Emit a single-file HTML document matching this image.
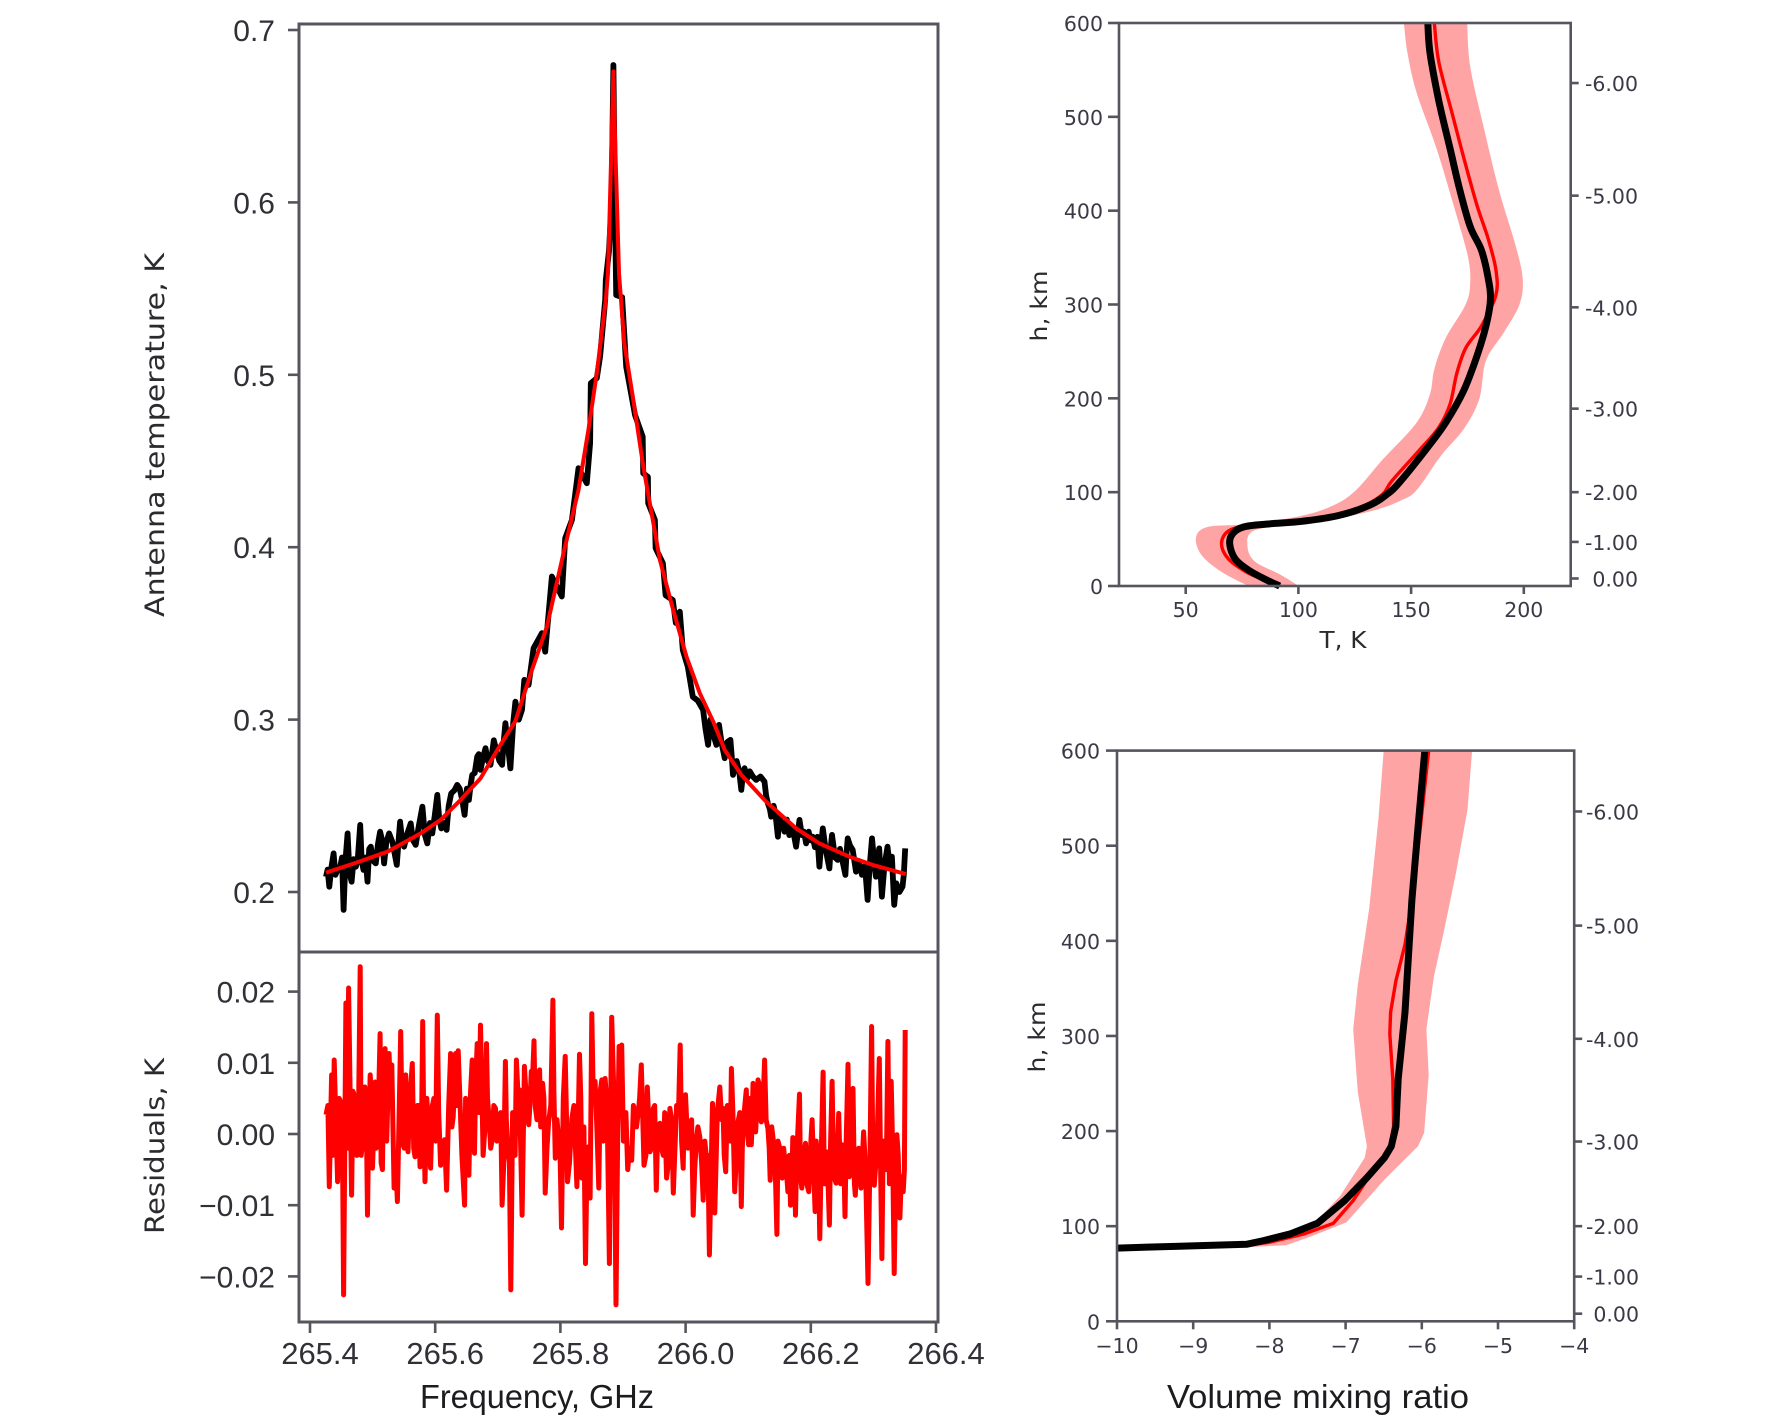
<!DOCTYPE html>
<html lang="en">
<head>
<meta charset="utf-8">
<title>Spectrum fit and retrieved profiles</title>
<style>
html,body{margin:0;padding:0;background:#fff;width:1788px;height:1424px;overflow:hidden}
svg{display:block}
.tickL{font-family:"Liberation Sans",sans-serif;font-size:30px;fill:#303036}
.tickX{font-family:"Liberation Sans",sans-serif;font-size:31px;fill:#303036}
.tickR{font-family:"DejaVu Sans",sans-serif;font-size:20.5px;fill:#3a3a46}
.lab{font-family:"DejaVu Sans",sans-serif;fill:#2a2a2f}
.labS{font-family:"Liberation Sans",sans-serif;fill:#1c1c1f}
</style>
</head>
<body>
<svg id="fig" xmlns="http://www.w3.org/2000/svg" width="1788" height="1424" viewBox="0 0 1788 1424">
  <rect x="0" y="0" width="1788" height="1424" fill="#ffffff"/>
  <g id="spectrum"></g>
  <g id="residual"></g>
  <g id="temp"></g>
  <g id="vmr"></g>
  <text class="lab" font-size="27" text-anchor="middle" textLength="364" lengthAdjust="spacingAndGlyphs" transform="translate(164,435) rotate(-90)">Antenna temperature, K</text>
  <text class="lab" font-size="27" text-anchor="middle" textLength="176" lengthAdjust="spacingAndGlyphs" transform="translate(164,1146) rotate(-90)">Residuals, K</text>
  <text class="labS" font-size="33" text-anchor="middle" textLength="234" lengthAdjust="spacingAndGlyphs" x="537" y="1408">Frequency, GHz</text>
  <text class="lab" font-size="23" text-anchor="middle" textLength="47" lengthAdjust="spacingAndGlyphs" x="1343" y="648">T, K</text>
  <text class="lab" font-size="23" text-anchor="middle" textLength="71" lengthAdjust="spacingAndGlyphs" transform="translate(1047,306) rotate(-90)">h, km</text>
  <text class="lab" font-size="23" text-anchor="middle" textLength="71" lengthAdjust="spacingAndGlyphs" transform="translate(1045,1037) rotate(-90)">h, km</text>
  <text class="labS" font-size="33" text-anchor="middle" textLength="302" lengthAdjust="spacingAndGlyphs" x="1318" y="1408">Volume mixing ratio</text>
</svg>
<script>
/* ---------- spectrum data ---------- */
const freqTicks = [265.4, 265.6, 265.8, 266.0, 266.2, 266.4];
const tempTicks = [0.2, 0.3, 0.4, 0.5, 0.6, 0.7];
const residTicks = [-0.02, -0.01, 0.00, 0.01, 0.02];
const residTickLabels = ['\u22120.02', '\u22120.01', '0.00', '0.01', '0.02'];

/* frequencies as MHz above 265.4 GHz */
const observedFreqMHz = [23.9,26.5,29.2,32.5,36.1,39,42.5,46.7,49.5,52,55,58.4,61.5,64.8,68,71.7,75,78.6,81,83.9,87,90.2,93,95.6,99.5,103.5,107,110.4,113.5,116.8,120.5,124.8,130,137,140,142.3,145.5,148.7,153,159.3,163,167.2,172,177.9,182,185.8,190,193.8,198,201.8,205,208.1,212.5,216.6,220,224,229,233.6,237.5,241.6,245.3,249,252.2,255,257.5,261.5,265.5,268,270.8,275,278.7,282.5,286.7,292,297.3,301,305.3,308,310.6,314.5,318.6,323,326.5,332,337,
340.7,347.6,355.6,368.9,374.2,384.8,400.7,406,416.7,427.3,440.6,445.9,447,456.5,461.8,470,471,476,480,483,485.5,487.5,497,503.5,517.5,529.8,530.7,538.2,538.7,549.4,550.5,562.1,566.4,578,582.8,589.2,591.9,594,601.9,609.9,617.8,
626.3,630,634.3,638,642,647.6,651.8,656,660.8,665,669.9,672,674.1,680,684,687.4,690,692.7,697,701,706,711,718,724.5,727,729.9,733,735.2,739,742,745.8,748,752,756.4,760,764,769,775,778,780.3,784,787.5,790.9,795,798,801.5,805,809,812.2,815,817.5,822,828.1,830,832.3,837,841.4,845,849,853.6,855.5,857.3,861,865.3,870.6,875,880,885,889.2,892.5,896.1,899,902.4,905,907.7,910,912,916,921,924.5,928,931.6,935,940,944.9,947,949.2];
const observedTemp = [.2089,.2130,.2031,.2140,.2224,.2100,.2128,.2147,.2200,.1896,.2180,.2340,.2110,.2060,.2190,.2147,.2200,.2389,.2180,.2128,.2200,.2060,.2250,.2263,.2180,.2166,.2280,.2350,.2300,.2166,.2290,.2340,.2290,.2157,.2300,.2408,.2300,.2263,.2330,.2398,.2300,.2273,.2380,.2495,.2330,.2282,.2400,.2340,.2450,.2563,.2420,.2369,.2400,.2360,.2500,.2572,.2590,.2621,.2600,.2534,.2447,.2600,.2534,.2620,.2679,.2690,.2785,.2800,.2708,.2780,.2834,.2760,.2737,.2880,.2805,.2760,.2737,.2880,.2979,.2850,.2717,.2980,.3104,.3000,.3056,
.3230,.3201,.3414,.3501,.3394,.3830,.3714,.4052,.4158,.4458,.4371,.4603,.4951,.4980,.5106,.5435,.555,.572,.60,.6797,.60,.5463,.545,.5047,.4767,.4641,.4429,.4408,.4255,.4158,.3995,.3907,.3721,.3693,.3561,.3626,.3502,.3404,.3306,.3132,.3110,
.3056,.2950,.2853,.3000,.2920,.2853,.2969,.2860,.2776,.2870,.2882,.2790,.2679,.2760,.2700,.2592,.2680,.2718,.2660,.2700,.2669,.2650,.2670,.2640,.2560,.2514,.2480,.2437,.2500,.2450,.2321,.2427,.2400,.2350,.2420,.2330,.2380,.2263,.2350,.2418,.2330,.2350,.2282,.2350,.2300,.2321,.2260,.2320,.2147,.2280,.2369,.2250,.2137,.2250,.2331,.2200,.2186,.2250,.2180,.2099,.2220,.2311,.2270,.2244,.2118,.2180,.2100,.2150,.1954,.2150,.2311,.2200,.2089,.2180,.2253,.2100,.1973,.2150,.2263,.2150,.2205,.1925,.2050,.2000,.2031,.2100,.2253];

const fitFreqMHz = [23.9,69,122,175.2,207,239,270.8,302.6,326.4,353,376.8,403.4,427.3,443.2,456.5,471,474.5,480.5,483,485.5,492,500.5,514.9,530.8,544.1,557.4,578.6,599.9,621.1,642.3,660.8,687.4,727.2,775,812.2,860,897.1,950.2];
const fitTemp = [.2112,.2166,.2234,.2340,.2418,.2534,.2659,.2853,.2990,.3288,.3539,.3965,.4332,.4680,.5009,.5435,.559,.64,.676,.64,.559,.5183,.4854,.4468,.4197,.3926,.3636,.3365,.3153,.2990,.2824,.2679,.2524,.2369,.2282,.2205,.2157,.2104];

/* spike readings of the residuals */
const residFreqMHz = [23.9,29.2,32.9,37.1,42.5,47.8,52,55.7,60,64.8,69,73.2,78.6,82.3,86,90.2,94.5,98.2,102.5,106.2,110.4,114.1,118.4,124.8,129,132.7,138,143.3,146,151.3,155,161.9,166.2,169.9,174.1,178.4,182.1,187.4,191.1,196.4,201.8,207.1,213.4,216.6,223,227.2,231,235.2,238.9,245.3,248.5,252.2,257.5,261.2,265.5,270.8,275,280.3,284.1,289.4,294.7,300,305.3,310.6,314.9,319.1,323.9,328.1,332.9,337.2,340.9,
347.7,351.9,356.2,361,365.2,370,374.2,379.5,386.4,390.2,395.5,400.2,406.1,409.8,416.7,424.7,428.9,432.6,438.5,443.3,445.9,448.6,453.9,459.7,464.5,469.8,476.7,480.4,487.3,492.1,496.4,501.7,505.9,512.3,517.6,522.9,527.7,532,537.2,541.5,546.8,551.6,557.4,562.7,568,573.4,578.7,584,589.8,594.6,598.3,605.2,610.5,615.8,621.1,626.5,631.8,636.5,641.3,645,653,
658.2,662.5,667.2,671.5,676.8,682.1,687.4,691.1,695.4,699.1,703.3,706,710.2,714,719.3,724.6,729.9,733.6,737.9,744.2,748.5,752.7,757.5,761.8,766,769.7,774,777.2,780.3,784,789.9,795.2,800.5,805.3,809.5,812.7,818,822.8,828.1,832.4,838.8,843,848.3,853.1,857.9,861.6,865.8,869.5,874.9,878.6,882.8,889.7,895.6,899.8,907.8,912,916.8,921.6,926.9,931.7,935.9,940.7,946,949.2];
/* residuals in mK */
const residValues = [2.7,-7.4,8.3,10.4,-6.7,4.5,-22.6,18.4,20.5,-8.6,5.5,-3,23.5,-1.5,6.6,-11.4,8.3,-4.8,7.3,2.4,14.1,-5,12,11.3,9.7,-7.6,-9.5,14.4,-1.3,8.3,-2.5,9.9,-3.2,4,-4.6,15.8,-6.7,1.7,-4.8,5,16.7,-4.4,-.8,-7.9,11.3,2.4,11.3,11.7,2.2,-10,4.5,-5.8,10.4,-2.7,12.7,15.3,-3,12.7,2.7,-.8,3.6,-.1,-10,10.2,-2.5,-21.9,-3,10.4,6.2,-11.4,9.5,
1.3,8.8,13.1,2,9,7.1,-8.3,1.7,18.8,-3.4,-.6,-13.2,10.9,-6.7,2.2,-7.4,11.2,-6.2,-18.2,-1.8,-9,16.9,7.4,-7.6,7.6,7.8,-18.2,16.4,-24,12.3,12.5,2.2,-5,-3.7,2.9,3.1,9.7,-4.4,6.6,-2.5,3.6,-7.9,1.5,-3,-6.2,3.6,-8.3,4,12.5,-4.8,5.5,.3,-11.4,-.6,-.4,-9.3,-3.4,-17,4.3,-11.1,6.6,
3.6,-5.3,1.7,9.2,-8.1,1.7,-10.2,1.7,6.2,-1.5,-1.5,7.1,.3,7.6,1.7,10.4,.8,-6.5,-.4,-14.1,-1.9,-6.2,-4.1,-8.1,-10,-.5,-11.4,-.6,5.6,-7.6,-1.3,-8.1,2,-10.9,-3.9,-14.7,8.7,-2.5,-12.8,7.4,-6.9,2.9,-1.5,-11.6,9.8,1.3,6.4,-8.6,-2,-7.6,.3,-21,15.1,-7.2,10.6,-17.5,-4.4,13,7.4,-19.6,-.1,-11.8,-8.1,14.6];
/* readings of the dense core between the spikes */
const residCoreFreqMHz = [27,35,45,50,58,67,71,76,80,88,92,96,104,108,112,116,121,127,135,141,149,153,158,164,172,176,180,185,189,194,199,204,210,220,225,233,241,247,250,255,259,263,268,273,278,282,287,292,297,303,308,312,317,322,326,331,335,
344,349,354,358,363,367,372,377,383,388,393,398,403,408,413,420,426,431,436,441,451,457,462,467,473,478,484,490,494,499,503,509,515,520,525,530,535,539,544,549,554,560,565,571,576,581,587,592,596,602,608,613,618,624,629,634,639,643,649,
656,660,665,670,674,679,685,689,693,697,701,705,708,712,716,722,727,732,736,741,746,750,755,760,764,768,772,776,782,787,792,798,803,807,811,815,820,825,830,835,841,846,851,855,860,864,868,872,877,881,886,893,898,904,910,914,919,924,929,934,938,943,948];
const residCoreValues = [4,-3,5,2,-2,6,-1,4,-3,5,0,6,-2,5,-4,6,-1,5,-3,4,-2,3,5,-2,4,-3,2,5,-3,4,-1,3,-2,4,1,4,-3,5,-1,6,0,7,3,6,1,5,-2,4,-1,3,-4,2,-4,3,-3,5,-2,
5,3,8,4,7,1,5,-2,4,6,2,-3,5,3,-4,4,-2,5,1,-3,5,0,6,-1,4,-2,5,0,3,-1,3,-2,4,1,5,2,-3,3,-2,4,1,-2,3,-4,2,-3,3,-1,3,-2,2,-5,1,-4,-1,-3,-6,1,3,
2,-3,4,-1,3,-4,3,-2,4,1,5,2,6,3,7,4,2,-2,1,-3,-1,-5,-2,-6,-3,-7,-4,-2,-6,-3,-7,-2,-5,-1,-6,-3,-7,-4,-1,-6,-2,-7,-3,-1,-6,-2,-7,-4,-6,-3,-5,-3,-7,-2,-6,-1,-5,-7,-2,-6,-3,-6,-5];

/* ---------- temperature profile data ---------- */
const heightTicks = [0, 100, 200, 300, 400, 500, 600];
const kelvinTicks = [50, 100, 150, 200];
const pressureTickLabels = ['-6.00', '-5.00', '-4.00', '-3.00', '-2.00', '-1.00', '0.00'];
const pressureTickHeights = [536, 416, 297, 189, 100, 47, 8];

const tempRetrievedK = [157.4,158.4,162.3,167.3,171.3,176.2,181.2,184.2,185.2,183.2,179.2,173.3,165.3,157.4,145.4,139.5,131.5,117.6,101.7,85.8,75.8,70.9,69.5,71.9,77.8,85.8,91.7];
const tempRetrievedH = [600,568,517,466,425,383,358,328,305,277,245,208,174,148,112,98,86,75,69,66,63,56,45,29,17,6.5,0];
const tempPriorK = [160.3,162.3,168.3,173.3,179.2,184.2,187.6,187.6,181.2,174.3,170.3,167.3,162.3,153.4,141.5,137.5,129.5,115.6,95.7,77.8,68.9,65.9,68.9,76.8,85.8,91.7];
const tempPriorH = [600,558.5,503,457,406,370,337,310,277,254,227,194,169,144,112,98,86,74,68,64.5,58.5,45,29,15,5.5,0];
const tempBandLowK = [146.8,148.4,152.4,161.3,169.3,175.2,176.2,174.2,165.3,160.3,158.3,152.4,137.5,125.5,115.6,101.7,77.8,59.9,54.6,57,65.9,77.8];
const tempBandLowH = [600,568,526,466,402,351,323,300,264,231,204,174,135,102,86,75,66,63,52,33,15,0];
const tempBandHighK = [174.9,176.2,182.2,189.2,196.1,199.5,198.1,191.1,183.2,180.2,173.3,163.3,152.4,145.4,135.5,117.6,95.7,79.8,77.4,80.8,91.7,100.1];
const tempBandHighH = [600,554,489,420,365,328,300,270,240,199,167,139,102,91,82,72,65.5,58.5,42,26,12.5,0];

/* ---------- mixing ratio profile data ---------- */
const vmrTicks = [-10, -9, -8, -7, -6, -5, -4];
const vmrTickLabels = ['\u221210', '\u22129', '\u22128', '\u22127', '\u22126', '\u22125', '\u22124'];
const vmrRetrieved = [-5.96,-6.05,-6.13,-6.22,-6.31,-6.34,-6.40,-6.49,-6.72,-7.01,-7.37,-7.72,-8.07,-8.30,-9.18,-10];
const vmrRetrievedH = [600,519,443,325,255,205,184,172,151,127,103,92,85,81,79,77];
const vmrPrior = [-5.91,-6.02,-6.11,-6.22,-6.34,-6.41,-6.42,-6.38,-6.37,-6.43,-6.66,-6.90,-7.16,-7.54,-8.01,-8.30,-9.18,-10];
const vmrPriorH = [600,519,453,396,358,325,302,255,205,179,156,127,103,92,83,80,78,76];
const vmrBandLow = [-6.50,-6.57,-6.69,-6.84,-6.90,-6.84,-6.72,-6.75,-7.07,-7.43,-7.78,-8.25,-9.18,-10];
const vmrBandLowH = [600,528,434,354,307,241,184,172,132,101,92,82.5,78,76];
const vmrBandHigh = [-5.34,-5.40,-5.55,-5.72,-5.84,-5.94,-5.91,-5.97,-6.05,-6.49,-6.99,-7.43,-7.78,-8.25,-9.18,-10];
const vmrBandHighH = [600,538,472,406,363,307,259,198,184,149,104,90,80,78,77,75];

/* ---------- axis functions ---------- */
const xFreq = f => 310 + (f - 265.4) * 626;
const xOffset = mhz => 1 + xFreq(265.4 + mhz / 1000);
const yTemp = t => 892 - (t - 0.2) * 1724;
const yResid = r => 1134 - r * 7120;
const xKelvin = k => 1185.7 + (k - 50) * 2.254;
const yHeightTop = h => 586 - h * (563 / 600);
const xVmr = v => 1117 + (v + 10) * 76.2;
const yHeightBottom = h => 1321.3 - h * (570.7 / 600);

const NS = 'http://www.w3.org/2000/svg';
function make(parent, tag, props) {
  const el = document.createElementNS(NS, tag);
  for (const k in props) el.setAttribute(k, props[k]);
  parent.appendChild(el);
  return el;
}
function tick(parent, x1, y1, x2, y2) {
  return make(parent, 'line', {x1: x1, y1: y1, x2: x2, y2: y2, stroke: '#55555f', 'stroke-width': 2.6});
}
function label(parent, cls, x, y, anchor, str) {
  const el = make(parent, 'text', {class: cls, x: x, y: y, 'text-anchor': anchor});
  el.textContent = str;
  return el;
}
function toPts(xs, ys, fx, fy) {
  return xs.map((v, i) => [fx(v), fy(ys[i])]);
}
function straightD(pts) {
  return pts.map((p, i) => (i ? 'L' : 'M') + p[0].toFixed(1) + ' ' + p[1].toFixed(1)).join('');
}
function smoothSegs(pts) {
  let d = '';
  for (let i = 0; i < pts.length - 1; i++) {
    const p0 = pts[Math.max(i - 1, 0)], p1 = pts[i], p2 = pts[i + 1], p3 = pts[Math.min(i + 2, pts.length - 1)];
    const c1x = p1[0] + (p2[0] - p0[0]) / 6, c1y = p1[1] + (p2[1] - p0[1]) / 6;
    const c2x = p2[0] - (p3[0] - p1[0]) / 6, c2y = p2[1] - (p3[1] - p1[1]) / 6;
    d += 'C' + c1x.toFixed(1) + ' ' + c1y.toFixed(1) + ' ' + c2x.toFixed(1) + ' ' + c2y.toFixed(1) + ' ' + p2[0].toFixed(1) + ' ' + p2[1].toFixed(1);
  }
  return d;
}
function smoothD(pts) {
  return 'M' + pts[0][0].toFixed(1) + ' ' + pts[0][1].toFixed(1) + smoothSegs(pts);
}
function stroked(parent, d, color, width) {
  return make(parent, 'path', {d: d, fill: 'none', stroke: color, 'stroke-width': width, 'stroke-linejoin': 'round', 'stroke-linecap': 'butt'});
}
function band(parent, lowX, lowH, highX, highH, fx, fy, smooth) {
  const lo = toPts(lowX, lowH, fx, fy);
  const hi = toPts(highX, highH, fx, fy).reverse();
  const d = smooth
    ? smoothD(lo) + 'L' + hi[0][0].toFixed(1) + ' ' + hi[0][1].toFixed(1) + smoothSegs(hi) + 'Z'
    : straightD(lo) + straightD(hi).replace('M', 'L') + 'Z';
  return make(parent, 'path', {d: d, fill: '#ffa4a4', stroke: 'none'});
}
function frame(parent, x, y, w, h, sw) {
  return make(parent, 'rect', {x: x, y: y, width: w, height: h, fill: 'none', stroke: '#55555f', 'stroke-width': sw});
}

/* ---------- spectrum panel ---------- */
const gS = document.getElementById('spectrum');
const obsLine = stroked(gS, straightD(toPts(observedFreqMHz, observedTemp, xOffset, yTemp)), '#000000', 5.8);


const fitLine = stroked(gS, straightD(toPts(fitFreqMHz, fitTemp, xOffset, yTemp)), '#ff0000', 4);


const fS = frame(gS, 299, 24, 639, 928, 3);


tempTicks.forEach(t => {
  const m = tick(gS, 288, yTemp(t), 299, yTemp(t));
  
  
  const l = label(gS, 'tickL', 275, yTemp(t) + 11, 'end', t.toFixed(1));
  
  
});

/* ---------- residual panel ---------- */
const gR = document.getElementById('residual');
const residOrder = residFreqMHz.map((f, i) => [f, residValues[i]])
  .concat(residCoreFreqMHz.map((f, i) => [f, residCoreValues[i]]))
  .sort((a, b) => a[0] - b[0]);
const resLine = stroked(gR, straightD(residOrder.map(p => [xOffset(p[0]), yResid(p[1] / 1000)])), '#ff0000', 5);


const fR = frame(gR, 299, 952, 639, 370, 3);


residTicks.forEach((r, i) => {
  const m = tick(gR, 288, yResid(r), 299, yResid(r));
  
  
  const l = label(gR, 'tickL', 275, yResid(r) + 11, 'end', residTickLabels[i]);
  
  
});
freqTicks.forEach(f => {
  const m = tick(gR, xFreq(f), 1322, xFreq(f), 1333);
  
  
  const l = label(gR, 'tickX', xFreq(f) + 10, 1364, 'middle', f.toFixed(1));
  
  
});

/* ---------- temperature panel ---------- */
const gT = document.getElementById('temp');
const tb = band(gT, tempBandLowK, tempBandLowH, tempBandHighK, tempBandHighH, xKelvin, yHeightTop, true);


const tp = stroked(gT, smoothD(toPts(tempPriorK, tempPriorH, xKelvin, yHeightTop)), '#ff0000', 3.4);


const tr = stroked(gT, smoothD(toPts(tempRetrievedK, tempRetrievedH, xKelvin, yHeightTop)), '#000000', 7);


const fT = frame(gT, 1119, 23, 451.7, 563, 2.6);


heightTicks.forEach(h => {
  const m = tick(gT, 1108, yHeightTop(h), 1119, yHeightTop(h));
  
  
  const l = label(gT, 'tickR', 1103, yHeightTop(h) + 8, 'end', String(h));
  
  
});
kelvinTicks.forEach(k => {
  const m = tick(gT, xKelvin(k), 586, xKelvin(k), 594);
  
  
  const l = label(gT, 'tickR', xKelvin(k), 617, 'middle', String(k));
  
  
});
pressureTickHeights.forEach((h, i) => {
  const m = tick(gT, 1570.7, yHeightTop(h), 1578.7, yHeightTop(h));
  
  
  const l = label(gT, 'tickR', 1638, yHeightTop(h) + 8, 'end', pressureTickLabels[i]);
  
  
});

/* ---------- mixing ratio panel ---------- */
const gV = document.getElementById('vmr');
const vb = band(gV, vmrBandLow, vmrBandLowH, vmrBandHigh, vmrBandHighH, xVmr, yHeightBottom, false);


const vp = stroked(gV, straightD(toPts(vmrPrior, vmrPriorH, xVmr, yHeightBottom)), '#ff0000', 3.4);


const vr = stroked(gV, straightD(toPts(vmrRetrieved, vmrRetrievedH, xVmr, yHeightBottom)), '#000000', 7);


const fV = frame(gV, 1117, 750.6, 457.2, 570.7, 2.6);


heightTicks.forEach(h => {
  const m = tick(gV, 1106, yHeightBottom(h), 1117, yHeightBottom(h));
  
  
  const l = label(gV, 'tickR', 1100, yHeightBottom(h) + 8, 'end', String(h));
  
  
});
vmrTicks.forEach((v, i) => {
  const m = tick(gV, xVmr(v), 1321.3, xVmr(v), 1329.3);
  
  
  const l = label(gV, 'tickR', xVmr(v), 1353, 'middle', vmrTickLabels[i]);
  
  
});
pressureTickHeights.forEach((h, i) => {
  const m = tick(gV, 1574.2, yHeightBottom(h), 1582.2, yHeightBottom(h));
  
  
  const l = label(gV, 'tickR', 1639, yHeightBottom(h) + 8, 'end', pressureTickLabels[i]);
  
  
});
</script>
</body>
</html>
